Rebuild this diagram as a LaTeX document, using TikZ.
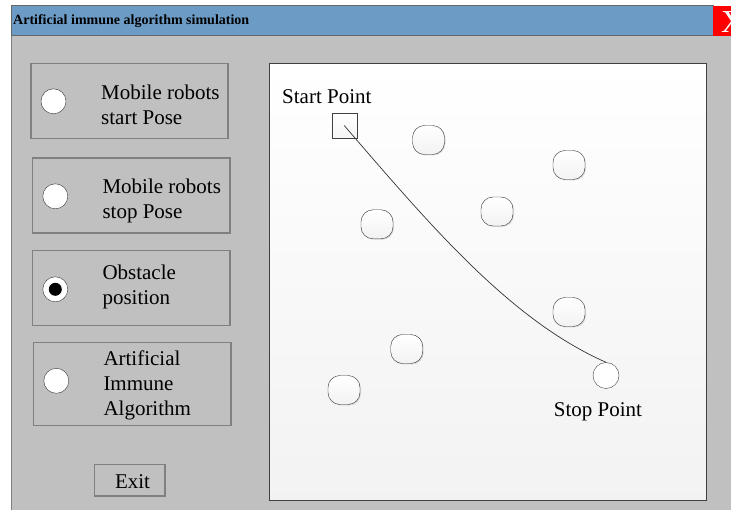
\documentclass[tikz,border=0pt]{standalone}
\usepackage{fontspec}
\setmainfont{Liberation Serif}
\usetikzlibrary{shadows}
\definecolor{winbg}{RGB}{192,192,192}
\definecolor{titleblue}{RGB}{108,155,198}
\definecolor{framegray}{RGB}{128,128,128}
\tikzset{
  optbox/.style={draw=framegray, line width=1.2pt, minimum width=197pt, minimum height=75pt, inner sep=0pt},
  radio/.style={circle, draw=black!80, fill=white, minimum size=25pt, inner sep=0pt},
  optlabel/.style={anchor=west, align=left, inner sep=0pt, font=\fontsize{21}{25}\selectfont},
  plainlabel/.style={anchor=base, inner sep=0pt, font=\fontsize{21}{25}\selectfont},
  obstacle/.style={draw=black!80, rounded corners=12pt, minimum width=32pt, minimum height=29pt, top color=white, bottom color=gray!10, drop shadow={shadow xshift=1pt, shadow yshift=-1pt, opacity=0.25}},
}
\begin{document}
\begin{tikzpicture}[x=1pt,y=-1pt]
\useasboundingbox (0,0) rectangle (731,510);
\fill[white] (0,0) rectangle (731,510);
\filldraw[fill=winbg, draw=framegray, line width=1pt] (11,36) rectangle (740,520);
\filldraw[fill=titleblue, draw=black!60, line width=1pt] (11,6) rectangle (713,36);
\fill[red] (713,6) rectangle (740,36);
\node[anchor=base west, inner sep=0pt, font=\bfseries\fontsize{14}{16}\selectfont] (title) at (13,25) {Artificial immune algorithm simulation};
\node[anchor=base west, inner sep=0pt, text=white, font=\fontsize{32}{32}\selectfont] (close) at (721,33) {X};
\node[optbox] (opt1) at (129.5,100.8) {};
\node[radio] (r1) at (53.5,101.3) {};
\node[optlabel] (l1) at (101,104.7) {Mobile robots\\start Pose};
\node[optbox, minimum width=197.7pt] (opt2) at (131.2,195.5) {};
\node[radio] (r2) at (55.3,196.3) {};
\node[optlabel] (l2) at (102.3,201) {Mobile robots\\stop Pose};
\node[optbox, minimum width=197.7pt] (opt3) at (131.2,288.3) {};
\node[radio] (r3) at (55.3,289.3) {};
\fill[black] (r3.center) circle (6.5);
\node[optlabel] (l3) at (102.3,287) {Obstacle\\position};
\node[optbox, minimum width=197.7pt, minimum height=83pt] (opt4) at (132.2,384.2) {};
\node[radio] (r4) at (56.3,380.8) {};
\node[optlabel] (l4) at (103.3,385.1) {Artificial\\Immune\\Algorithm};
\node[optbox, minimum width=70.7pt, minimum height=31.7pt] (exit) at (129.7,480.2) {};
\node[plainlabel] (exitlabel) at (132.5,488.3) {Exit};
\node[draw=black!75, line width=1pt, minimum width=436.7pt, minimum height=436.7pt, top color=white, bottom color=gray!10, inner sep=0pt] (map) at (487.7,281.7) {};
\node[plainlabel] (startlabel) at (326.8,103.3) {Start Point};
\node[draw=black!75, minimum size=25pt, inner sep=0pt, top color=white, bottom color=gray!8] (start) at (344.2,125.5) {};
\node[circle, draw=black!75, fill=white, minimum size=26pt, inner sep=0pt] (stop) at (606,375.5) {};
\node[plainlabel] (stoplabel) at (598,416.7) {Stop Point};
\node[obstacle] (o1) at (428.5,140) {};
\node[obstacle] (o2) at (569,165) {};
\node[obstacle] (o3) at (377,224.3) {};
\node[obstacle] (o4) at (497,211.5) {};
\node[obstacle] (o5) at (569,312) {};
\node[obstacle] (o6) at (406.7,349) {};
\node[obstacle] (o7) at (344,390) {};
\draw[black!80, line width=0.7pt] (start.center) .. controls (430,225) and (510,320) .. (stop.north);
\end{tikzpicture}
\end{document}
